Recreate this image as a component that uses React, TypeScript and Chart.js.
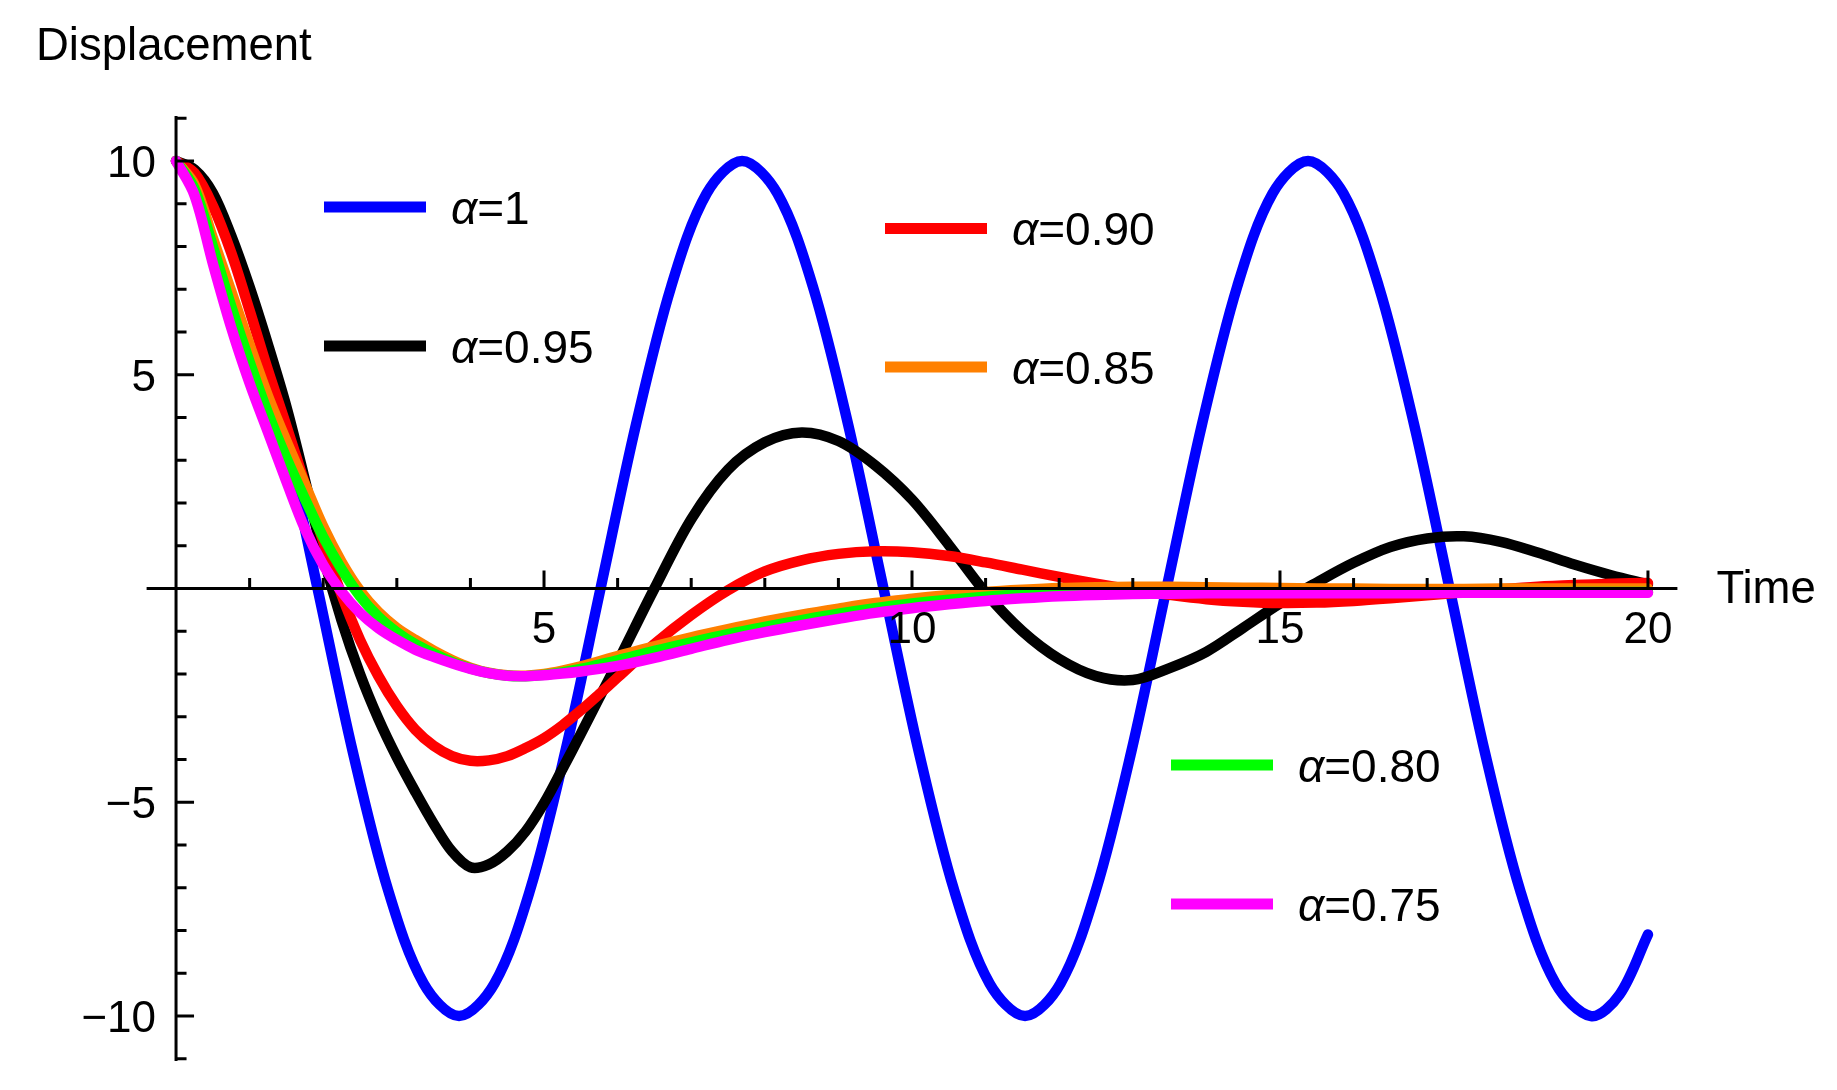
import React, { useEffect, useRef } from "react";
import { Chart, registerables } from "chart.js";

Chart.register(...registerables);

// ---- data ----
// time samples for the damped curves
const times = [
  0, 0.25, 0.5, 0.75, 1, 1.25, 1.5, 1.75, 2, 2.25, 2.5, 2.75, 3, 3.25, 3.5, 3.75, 4,
  4.25, 4.5, 4.75, 5, 5.25, 5.5, 5.75, 6,
  6.5, 7, 7.5, 8, 8.5, 9, 9.5, 10, 10.5, 11, 11.5, 12, 12.5, 13, 13.5, 14, 14.5,
  15, 15.5, 16, 16.5, 17, 17.5, 18, 18.5, 19, 19.5, 20,
];

// time samples for the undamped curve (alpha = 1)
const timesAlpha1 = [
  0, 0.481, 0.961, 1.442, 1.923, 2.403, 2.884, 3.365, 3.845, 4.326, 4.807, 5.287, 5.768,
  6.249, 6.729, 7.21, 7.691, 8.171, 8.652, 9.133, 9.613, 10.094, 10.575, 11.055, 11.536,
  12.017, 12.497, 12.978, 13.458, 13.939, 14.42, 14.9, 15.381, 15.862, 16.342, 16.823,
  17.304, 17.784, 18.265, 18.746, 19.226, 19.613, 20,
];

const alpha100 = [
  10, 9.24, 7.07, 3.83, 0, -3.83, -7.07, -9.24, -10, -9.24, -7.07, -3.83, 0,
  3.83, 7.07, 9.24, 10, 9.24, 7.07, 3.83, 0, -3.83, -7.07, -9.24, -10,
  -9.24, -7.07, -3.83, 0, 3.83, 7.07, 9.24, 10, 9.24, 7.07, 3.83,
  0, -3.83, -7.07, -9.24, -10, -9.5, -8.09,
];

const alpha095 = [
  10, 9.8, 9.25, 8.25, 7.05, 5.7, 4.25, 2.55, 0.75, -0.75, -2.0, -3.05, -3.95, -4.75, -5.5,
  -6.15, -6.52, -6.45, -6.15, -5.68, -5.02, -4.22, -3.4, -2.56, -1.72,
  0.0, 1.62, 2.78, 3.42, 3.65, 3.45, 2.88, 2.08, 1.02, -0.1, -1.0, -1.65, -2.05, -2.14,
  -1.86, -1.48, -0.92, -0.35, 0.14, 0.6, 0.97, 1.17, 1.22, 1.09, 0.84, 0.56, 0.31, 0.1,
];

const alpha090 = [
  10, 9.72, 8.95, 7.85, 6.5, 5.1, 3.8, 2.45, 1.1, -0.15, -1.2, -2.05, -2.75, -3.3, -3.68,
  -3.92, -4.03, -4.02, -3.92, -3.73, -3.5, -3.2, -2.85, -2.47, -2.08,
  -1.3, -0.62, -0.04, 0.4, 0.66, 0.81, 0.87, 0.85, 0.76, 0.61, 0.44, 0.27, 0.11, -0.03,
  -0.15, -0.25, -0.31, -0.34, -0.33, -0.29, -0.23, -0.16, -0.09, -0.02, 0.04, 0.08, 0.11, 0.13,
];

const alpha085 = [
  10, 9.45, 8.2, 6.95, 5.7, 4.5, 3.45, 2.45, 1.45, 0.62, -0.05, -0.55, -0.92, -1.2, -1.45,
  -1.67, -1.85, -1.97, -2.03, -2.04, -2.0, -1.92, -1.82, -1.7, -1.58,
  -1.35, -1.14, -0.95, -0.77, -0.61, -0.47, -0.34, -0.24, -0.15, -0.08, -0.03, 0.01, 0.03,
  0.04, 0.04, 0.03, 0.02, 0.01, 0.0, 0.0, -0.01, -0.01, -0.01, 0.0, 0.0, 0.0, 0.0, 0.0,
];

const alpha080 = [
  10, 9.35, 8.0, 6.6, 5.3, 4.1, 3.05, 2.1, 1.2, 0.45, -0.18, -0.66, -1.02, -1.3, -1.52,
  -1.72, -1.87, -1.98, -2.04, -2.05, -2.02, -1.96, -1.88, -1.78, -1.68,
  -1.46, -1.26, -1.07, -0.9, -0.74, -0.59, -0.46, -0.35, -0.26, -0.19, -0.14, -0.11, -0.09,
  -0.09, -0.09, -0.1, -0.1, -0.1, -0.1, -0.1, -0.1, -0.1, -0.09, -0.09, -0.09, -0.08, -0.08, -0.08,
];

const alpha075 = [
  10, 9.2, 7.6, 6.1, 4.8, 3.65, 2.5, 1.4, 0.55, -0.08, -0.57, -0.93, -1.2, -1.43, -1.6,
  -1.75, -1.88, -1.98, -2.04, -2.05, -2.03, -1.99, -1.94, -1.88, -1.81,
  -1.62, -1.41, -1.2, -1.02, -0.86, -0.71, -0.57, -0.46, -0.37, -0.29, -0.23, -0.18, -0.15,
  -0.13, -0.12, -0.11, -0.11, -0.11, -0.11, -0.11, -0.11, -0.11, -0.1, -0.1, -0.1, -0.1, -0.1, -0.1,
];

const seriesLabels = ["1", "0.95", "0.90", "0.85", "0.80", "0.75"];
const seriesColors = ["#0000ff", "#000000", "#ff0000", "#ff8000", "#00ff00", "#ff00ff"];
const seriesValues = [alpha100, alpha095, alpha090, alpha085, alpha080, alpha075];
const seriesTimes = [timesAlpha1, times, times, times, times, times];

const xMajorTicks = [5, 10, 15, 20];
const xTickLabels = ["5", "10", "15", "20"];
const yMajorTicks = [-10, -5, 5, 10];
const yTickLabels = ["\u221210", "\u22125", "5", "10"];

const xAxisTitle = "Time";
const yAxisTitle = "Displacement";

const FONT = '"Liberation Sans", Arial, Helvetica, sans-serif';

// legend placement (pixels) per series index
const legendSpots = [
  { x: 324, cy: 207 },
  { x: 324, cy: 346 },
  { x: 885, cy: 228.5 },
  { x: 885, cy: 367 },
  { x: 1171, cy: 765 },
  { x: 1171, cy: 904 },
];

const axesPlugin = {
  id: "mmaAxes",
  afterDatasetsDraw(chart: any) {
    const { ctx, chartArea: ca, scales } = chart;
    const xs = scales.x;
    const ys = scales.y;
    const px = (v: number) => xs.getPixelForValue(v);
    const py = (v: number) => ys.getPixelForValue(v);
    const x0 = px(0);
    const y0 = py(0);
    ctx.save();
    ctx.strokeStyle = "#000";
    ctx.lineWidth = 3;
    ctx.lineCap = "butt";
    ctx.beginPath();
    ctx.moveTo(ca.left, y0);
    ctx.lineTo(ca.right, y0);
    ctx.moveTo(x0, ca.top);
    ctx.lineTo(x0, ca.bottom);
    const xMin = Math.ceil(xs.min);
    const xMax = Math.floor(xs.max);
    for (let t = xMin; t <= xMax; t++) {
      if (t === 0) continue;
      const len = xMajorTicks.includes(t) ? 18 : 10.5;
      ctx.moveTo(px(t), y0);
      ctx.lineTo(px(t), y0 - len);
    }
    const yMin = Math.ceil(ys.min);
    const yMax = Math.floor(ys.max);
    for (let v = yMin; v <= yMax; v++) {
      if (v === 0) continue;
      const len = yMajorTicks.includes(v) ? 18 : 10.5;
      ctx.moveTo(x0, py(v));
      ctx.lineTo(x0 + len, py(v));
    }
    ctx.stroke();

    ctx.fillStyle = "#000";
    ctx.font = `44px ${FONT}`;
    ctx.textBaseline = "alphabetic";
    ctx.textAlign = "center";
    xMajorTicks.forEach((t, i) => {
      ctx.fillText(xTickLabels[i], px(t), y0 + 54.5);
    });
    ctx.textAlign = "right";
    yMajorTicks.forEach((v, i) => {
      ctx.fillText(yTickLabels[i], x0 - 20, py(v) + 16);
    });

    ctx.textAlign = "left";
    ctx.font = `45.5px ${FONT}`;
    ctx.fillText(xAxisTitle, ca.right + 39, y0 + 14);
    ctx.fillText(yAxisTitle, 36, 60);

    seriesLabels.forEach((lab, i) => {
      const s = legendSpots[i];
      ctx.fillStyle = seriesColors[i];
      ctx.fillRect(s.x, s.cy - 5.5, 102, 11);
      ctx.fillStyle = "#000";
      const tx = s.x + 127;
      const by = s.cy + 16.5;
      ctx.font = `italic 46px ${FONT}`;
      ctx.fillText("\u03b1", tx, by);
      const w = ctx.measureText("\u03b1").width;
      ctx.font = `46px ${FONT}`;
      ctx.fillText("=" + lab, tx + w, by);
    });
    ctx.restore();
  },
};

export default function App() {
  const ref = useRef<HTMLCanvasElement>(null);
  useEffect(() => {
    document.body.style.margin = "0";
    document.body.style.overflow = "hidden";
    const canvas = ref.current!;
    const orders = [5, 4, 3, 2, 1, 0];
    const chart = new Chart(canvas, {
      type: "scatter",
      data: {
        datasets: seriesValues.map((vals, i) => ({
          label: "\u03b1=" + seriesLabels[i],
          data: seriesTimes[i].map((t, k) => ({ x: t, y: vals[k] })),
          showLine: true,
          borderColor: seriesColors[i],
          backgroundColor: seriesColors[i],
          borderWidth: 10.5,
          pointRadius: 0,
          pointHoverRadius: 0,
          tension: 0.33,
          borderCapStyle: "round",
          borderJoinStyle: "round",
          fill: false,
          order: orders[i],
          clip: false,
        })),
      },
      options: {
        responsive: false,
        devicePixelRatio: 1,
        animation: false,
        events: [],
        layout: { padding: { left: 146.6, right: 159.6, top: 116, bottom: 29 } },
        plugins: { legend: { display: false }, tooltip: { enabled: false }, title: { display: false } },
        scales: {
          x: { type: "linear", min: -0.4, max: 20.4, display: false },
          y: { type: "linear", min: -11.05, max: 11.05, display: false },
        },
      },
      plugins: [axesPlugin],
    } as any);
    return () => chart.destroy();
  }, []);
  return (
    <div style={{ width: 1837, height: 1090, background: "#ffffff" }}>
      <canvas ref={ref} width={1837} height={1090} style={{ display: "block", width: "1837px", height: "1090px" }} />
    </div>
  );
}
